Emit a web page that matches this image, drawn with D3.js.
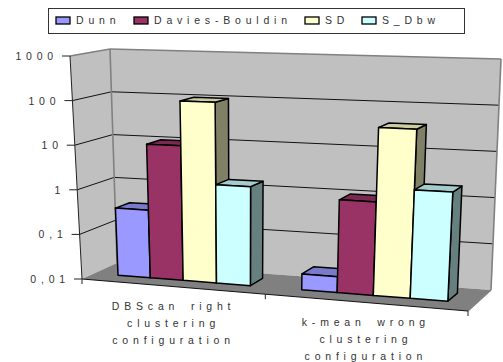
<!DOCTYPE html>
<html>
<head>
<meta charset="utf-8">
<script src="https://cdn.jsdelivr.net/npm/d3@7/dist/d3.min.js"></script>
<style>
html,body{margin:0;padding:0;background:#fff;}
svg{display:block;}
text{font-family:"Liberation Sans",Arial,sans-serif;font-size:10.5px;fill:#333;letter-spacing:4.8px;word-spacing:4px;}
</style>
</head>
<body>
<svg id="chart" width="503" height="362"></svg>
<script>
const categories = [
  ["DBScan right","clustering","configuration"],
  ["k-mean wrong","clustering","configuration"]
];
const seriesNames = ["Dunn","Davies-Bouldin","SD","S_Dbw"];
const seriesColors = ["#9999ff","#993366","#ffffcc","#ccffff"];
const dunn = [0.33,0.022];
const daviesBouldin = [10,1.0];
const sd = [100,39];
const sDbw = [1.5,2.0];
const seriesValues = [dunn,daviesBouldin,sd,sDbw];
const tickValues = [1000,100,10,1,0.1,0.01];
const tickLabels = ["1000","100","10","1","0,1","0,01"];

// Corners of the 3D box on screen: floor plane and ceiling plane
const floorQuad = [[82,279],[468,311],[491,290],[117,263]];
const ceilQuad  = [[70,56],[481,68],[501,59],[110,49]];

// Unit square to quadrilateral: perspective map softened with a bilinear one
function quadMap(q){
  const [[x0,y0],[x1,y1],[x2,y2],[x3,y3]] = q;
  const dx1=x1-x2,dx2=x3-x2,sx=x0-x1+x2-x3,dy1=y1-y2,dy2=y3-y2,sy=y0-y1+y2-y3;
  const den=dx1*dy2-dx2*dy1;
  const g=(sx*dy2-dx2*sy)/den,h=(dx1*sy-sx*dy1)/den;
  const a=x1-x0+g*x1,b=x3-x0+h*x3,d=y1-y0+g*y1,e=y3-y0+h*y3;
  return (u,v)=>{
    const w=g*u+h*v+1;
    const hx=(a*u+b*v+x0)/w, hy=(d*u+e*v+y0)/w;
    const bx=(1-v)*((1-u)*x0+u*x1)+v*((1-u)*x3+u*x2);
    const by=(1-v)*((1-u)*y0+u*y1)+v*((1-u)*y3+u*y2);
    return [(hx+bx)/2,(hy+by)/2];
  };
}
const onFloor=quadMap(floorQuad), onCeil=quadMap(ceilQuad);

const heightScale=d3.scaleLog().domain([0.01,1000]).range([0,1]);
const catScale=d3.scaleBand().domain(d3.range(categories.length)).range([0,1]).paddingInner(0.27).paddingOuter(0.135);
const serScale=d3.scaleBand().domain(d3.range(seriesNames.length)).range([0,catScale.bandwidth()]);
const depthFront=0.35, depthBack=0.75;

// Project box coordinates: across, depth, data value
function project(u,d,val){
  const a=onFloor(u,d), b=onCeil(u,d), t=heightScale(val);
  return [a[0]+(b[0]-a[0])*t, a[1]+(b[1]-a[1])*t];
}
const svg=d3.select("#chart");
const poly=(pts,fill,stroke,sw)=>svg.append("polygon")
  .attr("points",pts.map(p=>p.join(",")).join(" "))
  .attr("fill",fill).attr("stroke",stroke||"none").attr("stroke-width",sw||0).attr("stroke-linejoin","round");
const seg=(a,b,stroke,sw)=>svg.append("line")
  .attr("x1",a[0]).attr("y1",a[1]).attr("x2",b[0]).attr("y2",b[1])
  .attr("stroke",stroke).attr("stroke-width",sw);

// Walls and floor
const vMin=0.01,vMax=1000;
poly([project(0,0,vMin),project(0,0,vMax),project(0,1,vMax),project(0,1,vMin)],"#c0c0c0");
poly([project(0,1,vMin),project(0,1,vMax),project(1,1,vMax),project(1,1,vMin)],"#c0c0c0");
poly([project(0,0,vMin),project(1,0,vMin),project(1,1,vMin),project(0,1,vMin)],"#808080");

// Gridlines wrap around the left and back walls
tickValues.forEach((v,i)=>{
  if(v!==vMax && v!==vMin){
    seg(project(0,0,v),project(0,1,v),"#111",1);
    seg(project(0,1,v),project(1,1,v),"#111",1);
  }
});
seg(project(0,1,vMin),project(0,1,vMax),"#808080",1.6);
seg(project(1,1,vMin),project(1,1,vMax),"#808080",1.6);
seg(project(0,0,vMax),project(0,1,vMax),"#808080",1.6);
seg(project(0,1,vMax),project(1,1,vMax),"#808080",1.6);
seg(project(1,1,vMin),project(1,0,vMin),"#808080",1.2);

// Value axis and base edge with tick marks
seg(project(0,0,vMin),project(0,0,vMax),"#222",1);
seg(project(0,0,vMin),project(1,0,vMin),"#111",1.2);
tickValues.forEach((v,i)=>{
  const p=project(0,0,v);
  seg([p[0]-8,p[1]],p,"#222",1);
  svg.append("text").attr("x",p[0]-12).attr("y",p[1]+4)
    .attr("text-anchor","end").text(tickLabels[i]);
});
[0,0.5,1].forEach(u=>{
  const p=project(u,0,vMin);
  seg(p,[p[0],p[1]+5],"#222",1);
});

// Bars, drawn left to right so each one covers its neighbour's side
const shade=(c,k)=>{const r=d3.rgb(c);return d3.rgb(r.r*k,r.g*k,r.b*k).formatHex();};
categories.forEach((cat,ci)=>{
  seriesNames.forEach((name,si)=>{
    const val=seriesValues[si][ci], col=seriesColors[si];
    const u0=catScale(ci)+serScale(si), u1=u0+serScale.bandwidth();
    const A=project(u0,depthFront,vMin),B=project(u1,depthFront,vMin),
          C=project(u1,depthFront,val),D=project(u0,depthFront,val),
          E=project(u1,depthBack,vMin),F=project(u1,depthBack,val),G=project(u0,depthBack,val);
    poly([B,E,F,C],shade(col,0.5),"#000",1.5);
    poly([D,C,F,G],shade(col,0.8),"#000",1.5);
    poly([A,B,C,D],col,"#000",1.5);
  });
});

// Category labels, following the slope of the base edge
categories.forEach((cat,ci)=>{
  const c=project(catScale(ci)+catScale.bandwidth()/2,0,vMin);
  cat.forEach((line,li)=>{
    svg.append("text").attr("x",c[0]+2).attr("y",c[1]+24+li*17)
      .attr("text-anchor","middle").text(line);
  });
});

// Legend
svg.append("rect").attr("x",48.5).attr("y",8.5).attr("width",416).attr("height",25)
  .attr("fill","#fff").attr("stroke","#333").attr("stroke-width",1);
const swatchX=d3.scaleOrdinal().domain(seriesNames).range([56,134,305,362]);
seriesNames.forEach((name,i)=>{
  const x=swatchX(name);
  svg.append("rect").attr("x",x).attr("y",17).attr("width",14).attr("height",7)
    .attr("fill",seriesColors[i]).attr("stroke","#000").attr("stroke-width",1.3);
  svg.append("text").attr("x",x+20).attr("y",23.5).text(name);
});
</script>
</body>
</html>
